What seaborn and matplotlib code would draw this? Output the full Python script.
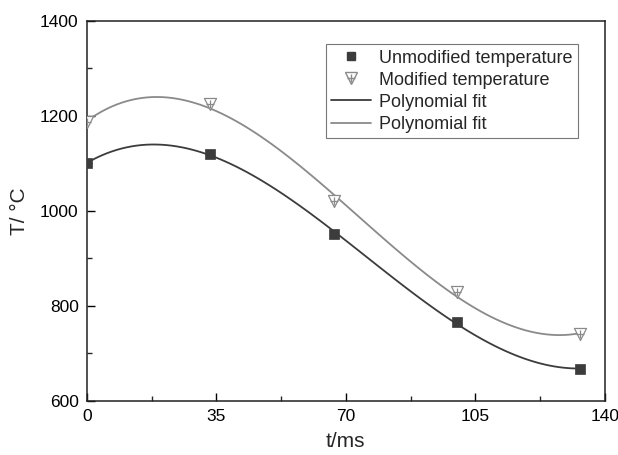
import numpy as np
import pandas as pd
import seaborn as sns
import matplotlib.pyplot as plt
from matplotlib.lines import Line2D
from matplotlib.legend_handler import HandlerTuple
from matplotlib.ticker import MultipleLocator

sns.set_style('ticks')
plt.rcParams['font.family'] = ['Liberation Sans', 'DejaVu Sans']

t_ms = [0, 33.3, 66.7, 100, 133.3]
unmodified = [1100, 1120, 952, 765, 667]
modified = [1187, 1224, 1021, 828, 740]

df = pd.DataFrame({'t': t_ms, 'unmod': unmodified, 'mod': modified})

dark = '#3c3c3c'
grey = '#8a8a8a'

fig = plt.figure(figsize=(6.18, 4.55), dpi=100)
ax = fig.add_axes([0.1408, 0.1193, 0.8377, 0.8352])

# polynomial fits
sns.regplot(data=df, x='t', y='unmod', order=3, ci=None, scatter=False,
            color=dark, line_kws={'lw': 1.3}, ax=ax)
sns.regplot(data=df, x='t', y='mod', order=3, ci=None, scatter=False,
            color=grey, line_kws={'lw': 1.3}, ax=ax)

# data points
sns.scatterplot(data=df, x='t', y='unmod', marker='s', s=42, color=dark,
                edgecolor=dark, linewidth=0.5, ax=ax, zorder=5)
ax.scatter(df['t'], df['mod'], marker='v', s=75, facecolor='white',
           edgecolor=grey, linewidth=0.9, zorder=5)
ax.scatter(df['t'], df['mod'], marker='+', s=40, color=grey,
           linewidth=0.9, zorder=6)

ax.set_xlim(0, 140)
ax.set_ylim(600, 1400)
ax.xaxis.set_major_locator(MultipleLocator(35))
ax.xaxis.set_minor_locator(MultipleLocator(17.5))
ax.yaxis.set_major_locator(MultipleLocator(200))
ax.yaxis.set_minor_locator(MultipleLocator(100))
ax.tick_params(which='major', direction='in', length=6, width=1, labelsize=12.5,
               colors='black', pad=6)
ax.tick_params(which='minor', direction='in', length=3.5, width=1)
for s in ax.spines.values():
    s.set_visible(True)
    s.set_linewidth(1.1)
    s.set_color('#222222')

ax.set_xlabel('t/ms', fontsize=15, labelpad=6)
ax.set_ylabel('T/ °C', fontsize=15, labelpad=8)

h_sq = Line2D([], [], marker='s', ls='none', color=dark, markersize=6)
h_tri = Line2D([], [], marker='v', ls='none', markerfacecolor='white',
               markeredgecolor=grey, markersize=8)
h_plus = Line2D([], [], marker='+', ls='none', color=grey, markersize=6)
h_l1 = Line2D([], [], color=dark, lw=1.3)
h_l2 = Line2D([], [], color=grey, lw=1.3)
leg = ax.legend([h_sq, (h_tri, h_plus), h_l1, h_l2],
                ['Unmodified temperature', 'Modified temperature',
                 'Polynomial fit', 'Polynomial fit'],
                handler_map={tuple: HandlerTuple(ndivide=1, pad=0)},
                loc='upper right', bbox_to_anchor=(0.948, 0.938),
                fontsize=13, frameon=True, fancybox=False, framealpha=1,
                edgecolor='#777777', handlelength=2.2, handletextpad=0.45,
                borderpad=0.3, labelspacing=0.28, borderaxespad=0)
leg.get_frame().set_linewidth(0.8)

fig.savefig('out.png', dpi=100)
